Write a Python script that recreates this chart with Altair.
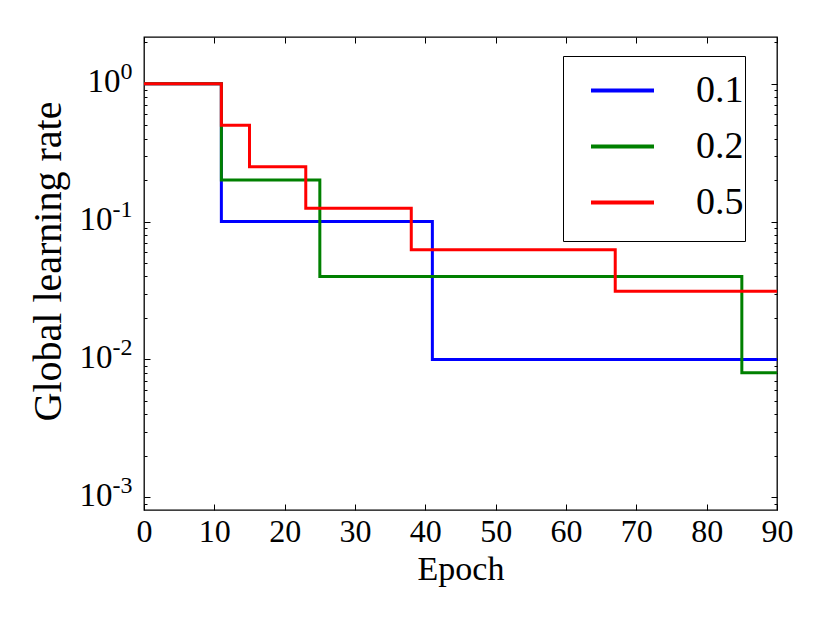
import altair as alt
import pandas as pd

# ---- data ----
series_names = ["0.1", "0.2", "0.5"]
series_colors = ["#0000ff", "#008000", "#ff0000"]

epochs_01 = [0, 11, 41, 90]
rates_01 = [1.0, 0.1, 0.01, 0.01]

epochs_02 = [0, 11, 25, 85, 90]
rates_02 = [1.0, 0.2, 0.04, 0.008, 0.008]

epochs_05 = [0, 11, 15, 23, 38, 67, 90]
rates_05 = [1.0, 0.5, 0.25, 0.125, 0.0625, 0.03125, 0.03125]

x_ticks = [0, 10, 20, 30, 40, 50, 60, 70, 80, 90]
y_major = [1.0, 0.1, 0.01, 0.001]
y_minor = [0.0009,
           0.002, 0.003, 0.004, 0.005, 0.006, 0.007, 0.008, 0.009,
           0.02, 0.03, 0.04, 0.05, 0.06, 0.07, 0.08, 0.09,
           0.2, 0.3, 0.4, 0.5, 0.6, 0.7, 0.8, 0.9,
           2.0]

rows = []
for name, ep, rt in [("0.1", epochs_01, rates_01),
                     ("0.2", epochs_02, rates_02),
                     ("0.5", epochs_05, rates_05)]:
    for e, r in zip(ep, rt):
        rows.append({"series": name, "epoch": e, "rate": r})
df = pd.DataFrame(rows)

FONT = "Liberation Serif"
xscale = alt.Scale(domain=[0, 90], nice=False, zero=False)
yscale = alt.Scale(type="log", domain=[0.00081, 2.18], nice=False)

exp_expr = ("datum.value >= 0.5 ? '0' : datum.value >= 0.05 ? '-1' : "
            "datum.value >= 0.005 ? '-2' : '-3'")

common_tick = dict(domain=False, grid=False, tickColor="black", tickWidth=1,
                   labelColor="black", labelFont=FONT, titleFont=FONT,
                   titleColor="black", titleFontWeight="normal")

x_bottom = alt.Axis(orient="bottom", values=x_ticks, offset=-6, tickSize=6,
                    labelFontSize=32, labelPadding=6, labelFlush=False, title="Epoch",
                    titleFontSize=34, titlePadding=5, **common_tick)
x_top = alt.Axis(orient="top", values=x_ticks, offset=-6, tickSize=6,
                 labels=False, title=None, **common_tick)

# base "10" of the y labels
y_left = alt.Axis(orient="left", values=y_major, offset=-6, tickSize=6,
                  labelExpr="'10'", labelFontSize=33, labelAlign="right",
                  labelOffset=-2,
                  labelPadding={"condition": {"test": "datum.value >= 0.5", "value": 24},
                                "value": 32},
                  title="Global learning rate", titleFontSize=40, titlePadding=11,
                  titleY=224, **common_tick)
# exponents of the y labels
y_left_exp = alt.Axis(orient="left", values=y_major, offset=-6, ticks=False,
                      labelExpr=exp_expr, labelFontSize=24, labelAlign="right",
                      labelPadding=18, labelOffset=-12, title=None, **common_tick)
y_right = alt.Axis(orient="right", values=y_major, offset=-6, tickSize=6,
                   labels=False, title=None, **common_tick)
y_left_minor = alt.Axis(orient="left", values=y_minor, offset=-3, tickSize=3,
                        labels=False, title=None, **common_tick)
y_right_minor = alt.Axis(orient="right", values=y_minor, offset=-3, tickSize=3,
                         labels=False, title=None, **common_tick)

base = alt.Chart(df)

legend = alt.Legend(
    title="\u00a0" * 81, titleOrient="bottom", titleFontSize=10, titlePadding=8,
    titleLimit=1000, titleAnchor="start",
    orient="none", legendX=419, legendY=19,
    direction="vertical", symbolType="stroke",
    symbolSize=3969, symbolStrokeWidth=4,
    labelFont=FONT, labelFontSize=38, labelColor="black",
    labelOffset=40, rowPadding=3, padding=1,
    symbolOffset=25, strokeColor="black",
    fillColor="white", cornerRadius=0,
)

lines = base.mark_line(interpolate="step-after", strokeWidth=3, clip=True).encode(
    x=alt.X("epoch:Q", scale=xscale, axis=x_bottom),
    y=alt.Y("rate:Q", scale=yscale, axis=y_left),
    color=alt.Color("series:N",
                    scale=alt.Scale(domain=series_names, range=series_colors),
                    legend=legend),
)

def ghost(x_axis, y_axis):
    return base.mark_point(opacity=0).encode(
        x=alt.X("epoch:Q", scale=xscale, axis=x_axis),
        y=alt.Y("rate:Q", scale=yscale, axis=y_axis),
    )

chart = alt.layer(
    lines,
    ghost(x_top, y_right),
    ghost(None, y_left_exp),
    ghost(None, y_left_minor),
    ghost(None, y_right_minor),
).resolve_axis(
    x="independent", y="independent"
).properties(
    width=633, height=473,
    background="white",
    autosize=alt.AutoSizeParams(type="none"),
    padding={"left": 136, "top": 29, "right": 40, "bottom": 90},
).configure_view(
    stroke="black", strokeWidth=1.3
)

chart.save("out.html", embed_options={"renderer": "svg", "actions": False})
